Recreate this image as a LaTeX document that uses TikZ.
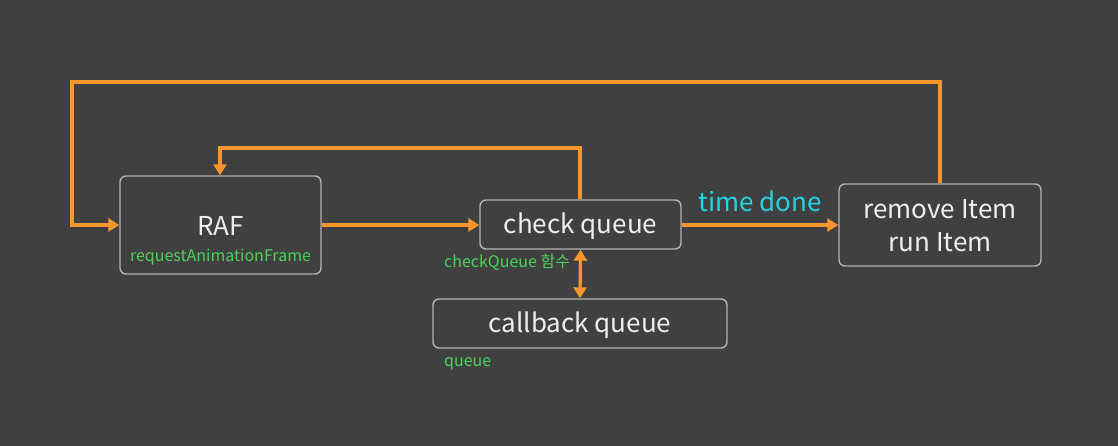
\documentclass[tikz,border=0pt]{standalone}
\usepackage{fontspec}
\setmainfont{Noto Sans CJK KR}
\usetikzlibrary{arrows.meta}
\definecolor{bg}{HTML}{404040}
\definecolor{orng}{HTML}{F7952F}
\definecolor{grn}{HTML}{4CD35A}
\definecolor{cyn}{HTML}{1FD6E2}
\definecolor{bord}{HTML}{B4B4B4}
\definecolor{txt}{HTML}{EEEEEE}
\tikzset{
  box/.style={draw=bord, line width=1.4pt, rounded corners=6pt, fill=bg, text=txt, inner sep=0pt, align=center},
  big/.style={font=\fontsize{26}{33}\selectfont},
  lbl/.style={text=grn, font=\fontsize{16}{18}\selectfont, inner sep=0pt},
  conn/.style={draw=orng, line width=3.2pt, -{Triangle[length=11pt,width=13pt]}},
}
\begin{document}
\begin{tikzpicture}[x=1pt,y=-1pt]
\fill[bg] (0,0) rectangle (1118,446);
\useasboundingbox (0,0) rectangle (1118,446);
\node[box, minimum width=201pt, minimum height=98pt] (raf) at (220.5,225) {};
\node[box, minimum width=201pt, minimum height=49pt] (check) at (580.5,224.5) {};
\node[box, minimum width=294pt, minimum height=49pt] (cb) at (580,323.5) {};
\node[box, minimum width=202pt, minimum height=82pt] (rm) at (940,225) {};
\node[text=txt, big, inner sep=0pt] (cqt) at (580.5,226) {check queue};
\node[text=txt, big, inner sep=0pt] (cbt) at (580,325) {callback queue};
\node[text=txt, big, inner sep=0pt, align=center] (rmt) at (940,226) {remove Item\\run Item};
\node[text=txt, big, inner sep=0pt] (raft) at (220.5,226) {RAF};
\node[lbl] (ral) at (220.5,257) {requestAnimationFrame};
\node[lbl, anchor=west] (cql) at (444,262) {checkQueue 함수};
\node[lbl, anchor=west] (ql) at (444,364) {queue};
\coordinate (o1) at (940,82);
\coordinate (o2) at (72,82);
\coordinate (o3) at (72,225);
\coordinate (i1) at (580,148);
\coordinate (i2) at (220,148);
\draw[conn] (rm.north) -- (o1) -- (o2) -- (o3) -- (raf.west);
\draw[conn] (check.north -| i1) -- (i1) -- (i2) -- (raf.north -| i2);
\draw[conn] (raf.east) -- (check.west |- raf.east);
\draw[conn] (check.east |- rm.west) -- node[above=12pt, text=cyn, font=\fontsize{26}{30}\selectfont, inner sep=0pt] (td) {time done} (rm.west);
\draw[conn, {Triangle[length=11pt,width=13pt]}-{Triangle[length=11pt,width=13pt]}] (check.south) -- (cb.north);
\end{tikzpicture}
\end{document}
